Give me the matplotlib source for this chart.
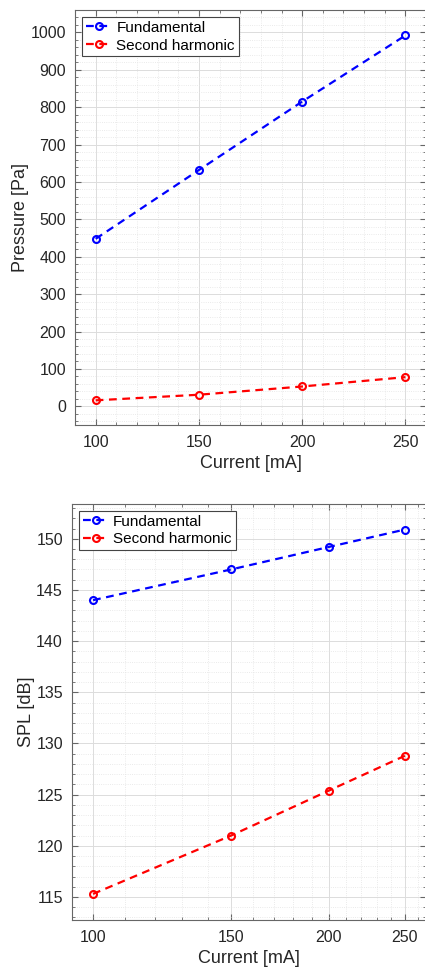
import matplotlib
matplotlib.use("Agg")
import matplotlib.pyplot as plt
from matplotlib.ticker import FixedLocator, NullFormatter, FixedFormatter

plt.rcParams['font.family'] = ['Liberation Sans', 'DejaVu Sans']

# data
current = [100, 150, 200, 250]
pressure_fund = [448, 632, 815, 992]
pressure_second = [16, 31, 53, 78]
spl_fund = [144.0, 147.0, 149.2, 150.9]
spl_second = [115.3, 121.0, 125.4, 128.8]
labels = ["Fundamental", "Second harmonic"]

txt_col = "#262626"
spine_col = "#666666"


def style_axes(ax):
    for s in ax.spines.values():
        s.set_color(spine_col)
        s.set_linewidth(0.8)
    ax.tick_params(which="both", direction="in", colors=spine_col,
                   labelcolor=txt_col, labelsize=11.5, top=True, right=True)
    ax.tick_params(which="major", length=4)
    ax.tick_params(which="minor", length=2)
    ax.tick_params(axis="x", which="both", pad=7.5)
    ax.tick_params(axis="y", which="both", pad=6.5)
    ax.grid(True, which="major", color="#dcdcdc", linewidth=0.7, linestyle="-")
    ax.grid(True, which="minor", color="#e3e3e3", linewidth=0.6, linestyle=":")
    ax.set_axisbelow(True)


def plot_pair(ax, y1, y2):
    ax.plot(current, y1, "--o", color="#0000ff", linewidth=1.6,
            markersize=5, markerfacecolor="none", markeredgewidth=1.5,
            label=labels[0], dashes=(3.5, 2.5))
    ax.plot(current, y2, "--o", color="#ff0000", linewidth=1.6,
            markersize=5, markerfacecolor="none", markeredgewidth=1.5,
            label=labels[1], dashes=(3.5, 2.5))
    leg = ax.legend(loc="upper left", fontsize=11, fancybox=False,
                    framealpha=1, edgecolor="#444444", handlelength=1.7,
                    handletextpad=0.3, borderpad=0.25, labelspacing=0.25,
                    borderaxespad=0.45)
    leg.get_frame().set_linewidth(0.8)


fig = plt.figure(figsize=(4.25, 9.71), dpi=100)

# top: pressure
ax1 = fig.add_axes([0.1765, 0.5623, 0.826, 0.4274])
plot_pair(ax1, pressure_fund, pressure_second)
ax1.set_xlim(90, 260)
ax1.set_ylim(-50, 1060)
ax1.set_xticks(current)
ax1.set_yticks(range(0, 1001, 100))
ax1.xaxis.set_minor_locator(FixedLocator(range(90, 261, 10)))
ax1.yaxis.set_minor_locator(FixedLocator(range(-40, 1061, 20)))
style_axes(ax1)
ax1.set_xlabel("Current [mA]", fontsize=13, color=txt_col, labelpad=3)
ax1.set_ylabel("Pressure [Pa]", fontsize=13, color=txt_col, labelpad=1)

# bottom: SPL, log x axis
ax2 = fig.add_axes([0.1694, 0.0525, 0.833, 0.4285])
plot_pair(ax2, spl_fund, spl_second)
ax2.set_xscale("log")
ax2.set_xlim(94, 266)
ax2.set_ylim(112.75, 153.4)
ax2.xaxis.set_major_locator(FixedLocator(current))
ax2.xaxis.set_major_formatter(FixedFormatter([str(c) for c in current]))
ax2.xaxis.set_minor_locator(FixedLocator(range(100, 261, 10)))
ax2.xaxis.set_minor_formatter(NullFormatter())
ax2.set_yticks(range(115, 151, 5))
ax2.yaxis.set_minor_locator(FixedLocator(range(113, 154, 1)))
style_axes(ax2)
ax2.set_xlabel("Current [mA]", fontsize=13, color=txt_col, labelpad=3)
ax2.set_ylabel("SPL [dB]", fontsize=13, color=txt_col, labelpad=1)

fig.savefig("out.png", dpi=100)
